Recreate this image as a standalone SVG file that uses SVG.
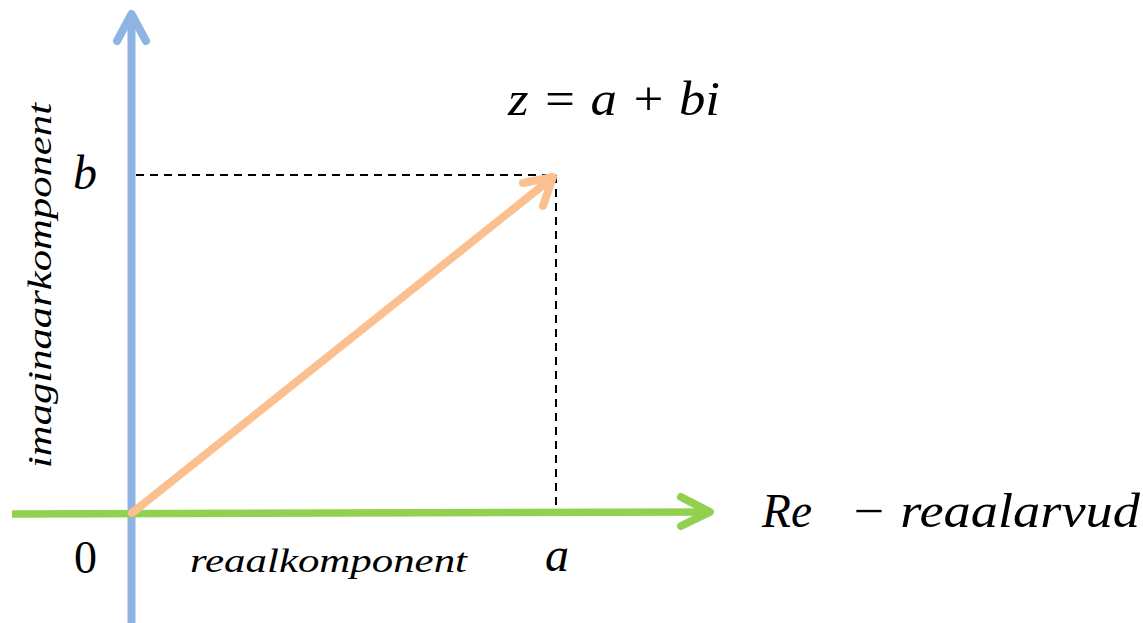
<svg xmlns="http://www.w3.org/2000/svg" width="1143" height="623" viewBox="0 0 1143 623">
<style>
.m{font-family:"Liberation Serif","DejaVu Serif",serif;font-style:italic;fill:#000}
.n{font-family:"Liberation Serif","DejaVu Serif",serif;fill:#000}
.dash{stroke:#000;stroke-width:2;stroke-dasharray:8 6;fill:none}
.ax{fill:none;stroke-linecap:round;stroke-linejoin:round}
</style>
<rect width="1143" height="623" fill="#fff"/>
<g id="guides">
<line class="dash" x1="136" y1="175" x2="556" y2="175"/>
<line class="dash" x1="556" y1="175" x2="556" y2="513"/>
</g>
<g id="connectors">
<g id="imag-axis">
<line x1="131.5" y1="623" x2="131.5" y2="14" stroke="#8DB4E2" stroke-width="8"/>
<polyline class="ax" points="117,41 131.5,14 146,41" stroke="#8DB4E2" stroke-width="8"/>
</g>
<g id="real-axis">
<line x1="12" y1="514" x2="710" y2="512" stroke="#92D050" stroke-width="7.5" stroke-linecap="butt"/>
<polyline class="ax" points="681,497 710,512 681,526" stroke="#92D050" stroke-width="8"/>
</g>
<g id="vector">
<line x1="132" y1="513" x2="552" y2="178" stroke="#FAC090" stroke-width="8" stroke-linecap="round"/>
<polyline class="ax" points="523,183 553,177 543,206" stroke="#FAC090" stroke-width="8"/>
</g>
</g>
<g id="label-z"><text class="m" x="508" y="115" font-size="48" textLength="212" lengthAdjust="spacingAndGlyphs">z = a + bi</text></g>
<g id="label-b"><text class="m" x="73" y="189" font-size="48">b</text></g>
<g id="label-re"><text class="m" y="527" font-size="48"><tspan x="762" textLength="50" lengthAdjust="spacingAndGlyphs">Re</tspan><tspan x="850" textLength="290" lengthAdjust="spacingAndGlyphs">− reaalarvud</tspan></text></g>
<g id="label-0"><text class="n" x="74" y="573" font-size="46">0</text></g>
<g id="label-real"><text class="m" x="190" y="572" font-size="34" textLength="277" lengthAdjust="spacingAndGlyphs">reaalkomponent</text></g>
<g id="label-a"><text class="m" x="545" y="571" font-size="48">a</text></g>
<g id="label-imag"><text class="m" transform="translate(51,468) rotate(-90)" font-size="34" textLength="365" lengthAdjust="spacingAndGlyphs">imaginaarkomponent</text></g>
</svg>
